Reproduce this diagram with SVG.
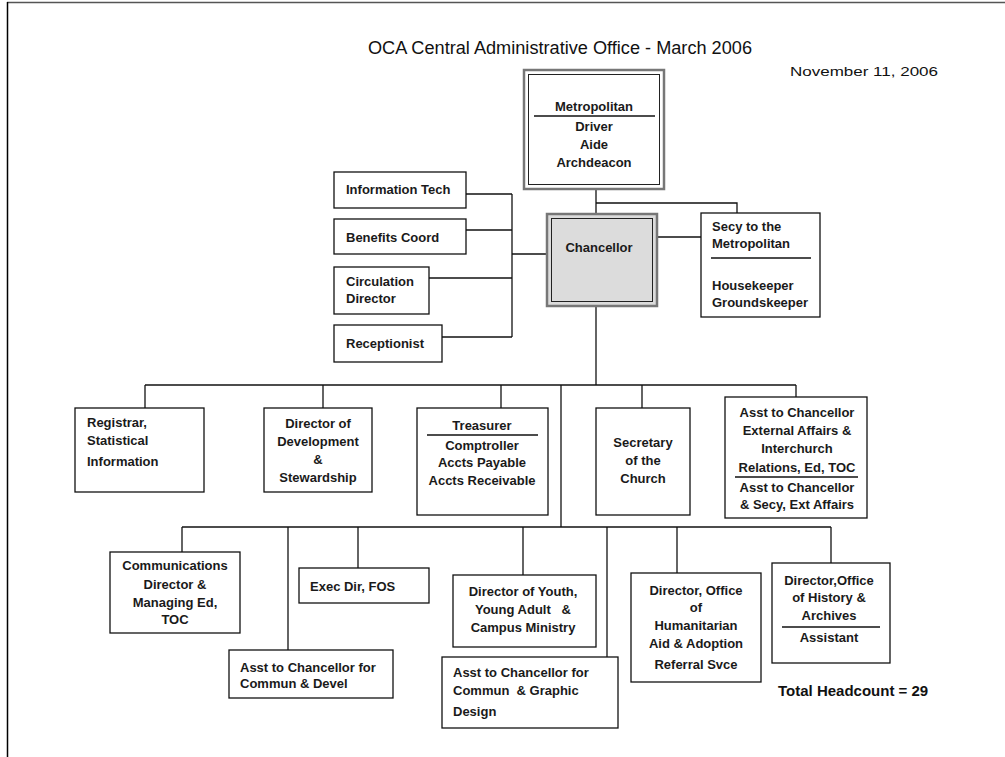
<svg xmlns="http://www.w3.org/2000/svg" width="1005" height="757" viewBox="0 0 1005 757">
<style>
.b{fill:#fff;stroke:#111;stroke-width:1.3}
.t{font-family:"Liberation Sans",Arial,sans-serif;font-size:13px;font-weight:bold;fill:#1a1a1a}
.c{text-anchor:middle}
.l{stroke:#111;stroke-width:1.3;fill:none}
.sep{stroke:#111;stroke-width:1.3}
</style>
<rect width="1005" height="757" fill="#fff"/>
<line x1="7" y1="2.5" x2="1005" y2="2.5" stroke="#555" stroke-width="1.3"/>
<line x1="7.5" y1="2" x2="7.5" y2="757" stroke="#000" stroke-width="1.5"/>
<text x="368" y="54" textLength="384" lengthAdjust="spacingAndGlyphs" font-family="Liberation Sans,Arial,sans-serif" font-size="17.5" fill="#111">OCA Central Administrative Office - March 2006</text>
<text x="790" y="76" textLength="148" lengthAdjust="spacingAndGlyphs" font-family="Liberation Sans,Arial,sans-serif" font-size="13.5" fill="#111">November 11, 2006</text>

<g id="connectors" class="l">
<polyline points="596,189 596,213"/>
<polyline points="596,203 737,203 737,213"/>
<line x1="657" y1="237" x2="701" y2="237"/>
<line x1="512" y1="194" x2="512" y2="337"/>
<line x1="466" y1="194" x2="512" y2="194"/>
<line x1="466" y1="230" x2="512" y2="230"/>
<line x1="429" y1="278" x2="512" y2="278"/>
<line x1="442" y1="337" x2="512" y2="337"/>
<line x1="512" y1="254" x2="546" y2="254"/>
<line x1="596" y1="306" x2="596" y2="385"/>
<line x1="145" y1="385" x2="796" y2="385"/>
<line x1="145" y1="385" x2="145" y2="408"/>
<line x1="323" y1="385" x2="323" y2="408"/>
<line x1="501" y1="385" x2="501" y2="408"/>
<line x1="642" y1="385" x2="642" y2="408"/>
<line x1="796" y1="385" x2="796" y2="397"/>
<line x1="561" y1="385" x2="561" y2="527"/>
<line x1="182" y1="527" x2="831" y2="527"/>
<line x1="182" y1="527" x2="182" y2="552"/>
<line x1="288" y1="527" x2="288" y2="650"/>
<line x1="358" y1="527" x2="358" y2="568"/>
<line x1="523" y1="527" x2="523" y2="575"/>
<line x1="607" y1="527" x2="607" y2="657"/>
<line x1="677" y1="527" x2="677" y2="573"/>
<line x1="831" y1="527" x2="831" y2="563"/>
</g>

<g id="metropolitan">
<rect x="524" y="70" width="140" height="119" fill="#fff" stroke="#777" stroke-width="2.5"/>
<rect x="528.5" y="74.5" width="131" height="110" fill="none" stroke="#222" stroke-width="1"/>
<text class="t c" x="594" y="111">Metropolitan</text>
<line class="sep" x1="534" y1="116" x2="655" y2="116"/>
<text class="t c" x="594" y="131">Driver</text>
<text class="t c" x="594" y="149">Aide</text>
<text class="t c" x="594" y="167">Archdeacon</text>
</g>

<g id="chancellor">
<rect x="547" y="214" width="110" height="92" fill="#dcdcdc" stroke="#777" stroke-width="2.5"/>
<rect x="551.5" y="218.5" width="101" height="83" fill="none" stroke="#222" stroke-width="1"/>
<text class="t c" x="599" y="252">Chancellor</text>
</g>

<g id="secy">
<rect class="b" x="701" y="213" width="119" height="104"/>
<text class="t" x="712" y="231">Secy to the</text>
<text class="t" x="712" y="248">Metropolitan</text>
<line class="sep" x1="711" y1="258" x2="811" y2="258"/>
<text class="t" x="712" y="290">Housekeeper</text>
<text class="t" x="712" y="307">Groundskeeper</text>
</g>

<g id="infotech">
<rect class="b" x="334" y="172" width="132" height="36"/>
<text class="t" x="346" y="194">Information Tech</text>
</g>
<g id="benefits">
<rect class="b" x="334" y="219" width="132" height="35"/>
<text class="t" x="346" y="242">Benefits Coord</text>
</g>
<g id="circulation">
<rect class="b" x="334" y="267" width="95" height="47"/>
<text class="t" x="346" y="286">Circulation</text>
<text class="t" x="346" y="303">Director</text>
</g>
<g id="receptionist">
<rect class="b" x="334" y="325" width="108" height="37"/>
<text class="t" x="346" y="348">Receptionist</text>
</g>

<g id="registrar">
<rect class="b" x="75" y="408" width="129" height="84"/>
<text class="t" x="87" y="427">Registrar,</text>
<text class="t" x="87" y="445">Statistical</text>
<text class="t" x="87" y="466">Information</text>
</g>
<g id="development">
<rect class="b" x="264" y="408" width="108" height="84"/>
<text class="t c" x="318" y="428">Director of</text>
<text class="t c" x="318" y="446">Development</text>
<text class="t c" x="318" y="464">&amp;</text>
<text class="t c" x="318" y="482">Stewardship</text>
</g>
<g id="treasurer">
<rect class="b" x="417" y="408" width="131" height="107"/>
<text class="t c" x="482" y="430">Treasurer</text>
<line class="sep" x1="427" y1="435" x2="538" y2="435"/>
<text class="t c" x="482" y="450">Comptroller</text>
<text class="t c" x="482" y="467">Accts Payable</text>
<text class="t c" x="482" y="485">Accts Receivable</text>
</g>
<g id="secretary">
<rect class="b" x="596" y="408" width="94" height="107"/>
<text class="t c" x="643" y="447">Secretary</text>
<text class="t c" x="643" y="465">of the</text>
<text class="t c" x="643" y="483">Church</text>
</g>
<g id="asst-external">
<rect class="b" x="725" y="397" width="142" height="121"/>
<text class="t c" x="797" y="417">Asst to Chancellor</text>
<text class="t c" x="797" y="435">External Affairs &amp;</text>
<text class="t c" x="797" y="453">Interchurch</text>
<text class="t c" x="797" y="472">Relations, Ed, TOC</text>
<line class="sep" x1="735" y1="477" x2="858" y2="477"/>
<text class="t c" x="797" y="492">Asst to Chancellor</text>
<text class="t c" x="797" y="509">&amp; Secy, Ext Affairs</text>
</g>

<g id="communications">
<rect class="b" x="110" y="552" width="130" height="81"/>
<text class="t c" x="175" y="570">Communications</text>
<text class="t c" x="175" y="589">Director &amp;</text>
<text class="t c" x="175" y="607">Managing Ed,</text>
<text class="t c" x="175" y="624">TOC</text>
</g>
<g id="asst-commun-devel">
<rect class="b" x="229" y="650" width="164" height="48"/>
<text class="t" x="240" y="672">Asst to Chancellor for</text>
<text class="t" x="240" y="688">Commun &amp; Devel</text>
</g>
<g id="execdir">
<rect class="b" x="299" y="568" width="130" height="35"/>
<text class="t" x="310" y="591">Exec Dir, FOS</text>
</g>
<g id="youth">
<rect class="b" x="453" y="575" width="143" height="72"/>
<text class="t c" x="523" y="596">Director of Youth,</text>
<text class="t c" x="523" y="614" xml:space="preserve">Young Adult   &amp;</text>
<text class="t c" x="523" y="632">Campus Ministry</text>
</g>
<g id="asst-commun-graphic">
<rect class="b" x="442" y="657" width="176" height="71"/>
<text class="t" x="453" y="677">Asst to Chancellor for</text>
<text class="t" x="453" y="695" xml:space="preserve">Commun  &amp; Graphic</text>
<text class="t" x="453" y="716">Design</text>
</g>
<g id="humanitarian">
<rect class="b" x="631" y="573" width="130" height="109"/>
<text class="t c" x="696" y="595">Director, Office</text>
<text class="t c" x="696" y="612">of</text>
<text class="t c" x="696" y="630">Humanitarian</text>
<text class="t c" x="696" y="648">Aid &amp; Adoption</text>
<text class="t c" x="696" y="669">Referral Svce</text>
</g>
<g id="history">
<rect class="b" x="772" y="563" width="118" height="100"/>
<text class="t c" x="829" y="585">Director,Office</text>
<text class="t c" x="829" y="602">of History &amp;</text>
<text class="t c" x="829" y="620">Archives</text>
<line class="sep" x1="782" y1="627" x2="880" y2="627"/>
<text class="t c" x="829" y="642">Assistant</text>
</g>

<text x="778" y="696" font-family="Liberation Sans,Arial,sans-serif" font-size="15" font-weight="bold" fill="#111">Total Headcount = 29</text>
</svg>
